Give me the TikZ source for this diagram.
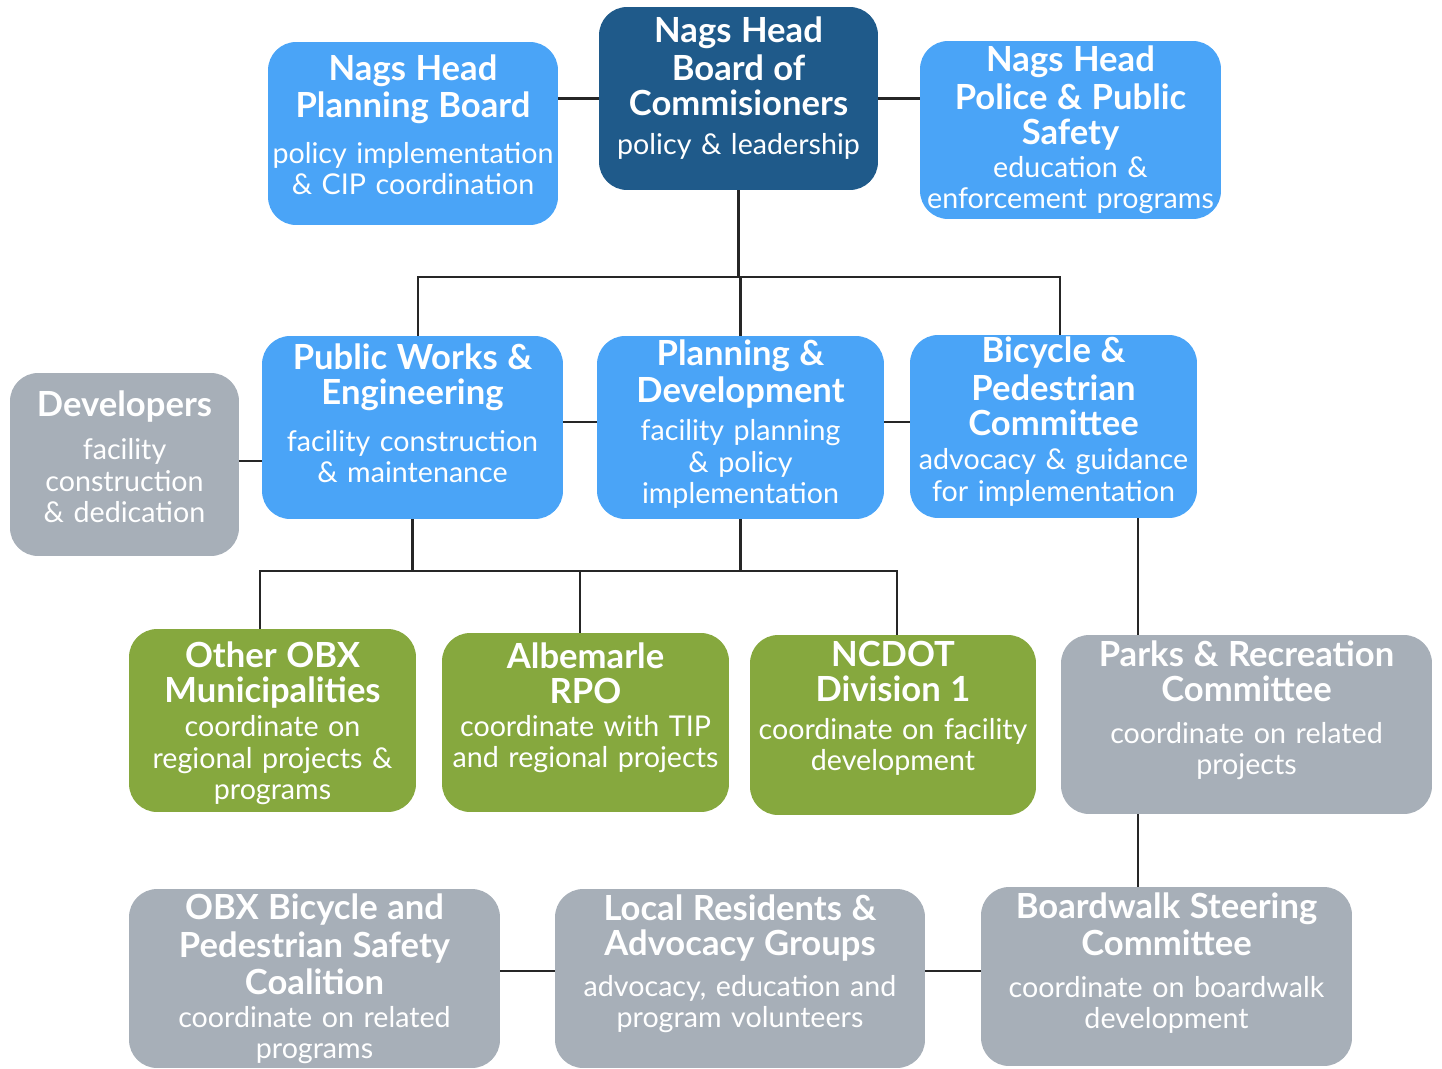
\documentclass[tikz,border=0pt]{standalone}
\usepackage{fontspec}
\setmainfont{Lato}
\usetikzlibrary{positioning}
\definecolor{boardblue}{RGB}{31,90,138}
\definecolor{townblue}{RGB}{74,164,247}
\definecolor{partnergreen}{RGB}{134,168,62}
\definecolor{othergray}{RGB}{167,175,184}
\newcommand{\hd}[1]{{\fontsize{19.7}{19.8}\selectfont\bfseries #1}}

\tikzset{
  orgbox/.style={rounded corners=16pt, inner sep=0pt, draw=none},
  boardbox/.style={orgbox, fill=boardblue},
  townbox/.style={orgbox, fill=townblue},
  partnerbox/.style={orgbox, fill=partnergreen},
  otherbox/.style={orgbox, fill=othergray},
  boxtext/.style={align=center, text width=7.6cm, text=white, inner sep=0pt,
    font=\fontsize{16.3}{17.8}\selectfont},
  link/.style={line width=1.3pt, black!85}
}

\begin{document}
\begin{tikzpicture}[x=0.02cm, y=-0.02cm]
    \useasboundingbox (0,0) rectangle (1442,1068);

    % top row
    \node[boardbox, minimum width=5.58cm, minimum height=3.66cm] (boc) at (738.5,98.5) {};
    \node[townbox, minimum width=5.8cm, minimum height=3.66cm] (pboard) at (413,133.5) {};
    \node[townbox, minimum width=6.02cm, minimum height=3.56cm] (police) at (1070.5,130) {};

    % departments
    \node[otherbox, minimum width=4.58cm, minimum height=3.66cm] (dev) at (124.5,464.5) {};
    \node[townbox, minimum width=6.02cm, minimum height=3.66cm] (pworks) at (412.5,427.5) {};
    \node[townbox, minimum width=5.74cm, minimum height=3.66cm] (pdev) at (740.5,427.5) {};
    \node[townbox, minimum width=5.74cm, minimum height=3.66cm] (bike) at (1053.5,426.5) {};

    % partners
    \node[partnerbox, minimum width=5.74cm, minimum height=3.66cm] (obx) at (272.5,720.5) {};
    \node[partnerbox, minimum width=5.74cm, minimum height=3.58cm] (rpo) at (585.5,722.5) {};
    \node[partnerbox, minimum width=5.72cm, minimum height=3.6cm] (ncdot) at (893,725) {};
    \node[otherbox, minimum width=7.42cm, minimum height=3.58cm] (parks) at (1246.5,724.5) {};

    % community
    \node[otherbox, minimum width=7.42cm, minimum height=3.58cm] (coal) at (314.5,978.5) {};
    \node[otherbox, minimum width=7.4cm, minimum height=3.58cm] (resid) at (740,978.5) {};
    \node[otherbox, minimum width=7.42cm, minimum height=3.58cm] (bwalk) at (1166.5,976.5) {};

    % texts
    \node[boxtext] (boc-t) at ([yshift=6pt]boc.center)
      {\hd{Nags Head\\[2pt]Board of\\[2pt]Commisioners}\\[4pt]policy \& leadership};
    \node[boxtext] (pboard-t) at ([yshift=5pt]pboard.center)
      {\hd{Nags Head\\[2pt]Planning Board}\\[8pt]policy implementation\\\& CIP coordination};
    \node[boxtext] (police-t) at (police.center)
      {\hd{Nags Head\\[2pt]Police \& Public\\[2pt]Safety}\\[1pt]education \&\\enforcement programs};
    \node[boxtext] (dev-t) at ([yshift=4.5pt]dev.center)
      {\hd{Developers}\\[7pt]facility\\construction\\\& dedication};
    \node[boxtext] (pworks-t) at ([yshift=8pt]pworks.center)
      {\hd{Public Works \&\\[2pt]Engineering}\\[9pt]facility construction\\\& maintenance};
    \node[boxtext] (pdev-t) at ([yshift=2pt]pdev.center)
      {\hd{Planning \&\\[2pt]Development}\\[4pt]facility planning\\\& policy\\implementation};
    \node[boxtext] (bike-t) at ([yshift=3pt]bike.center)
      {\hd{Bicycle \&\\[2pt]Pedestrian\\[2pt]Committee}\\[2pt]advocacy \& guidance\\for implementation};
    \node[boxtext] (obx-t) at ([yshift=-1.5pt]obx.center)
      {\hd{Other OBX\\[2pt]Municipalities}\\[2pt]coordinate on\\regional projects \&\\programs};
    \node[boxtext] (rpo-t) at ([yshift=8.5pt]rpo.center)
      {\hd{Albemarle\\[2pt]RPO}\\[1pt]coordinate with TIP\\and regional projects};
    \node[boxtext] (ncdot-t) at ([yshift=9.5pt]ncdot.center)
      {\hd{NCDOT\\[2pt]Division 1}\\[4pt]coordinate on facility\\development};
    \node[boxtext] (parks-t) at ([yshift=8pt]parks.center)
      {\hd{Parks \& Recreation\\[2pt]Committee}\\[6pt]coordinate on related\\projects};
    \node[boxtext] (coal-t) at (coal.center)
      {\hd{OBX Bicycle and\\[2pt]Pedestrian Safety\\[2pt]Coalition}\\[1pt]coordinate on related\\programs};
    \node[boxtext] (resid-t) at ([yshift=8.5pt]resid.center)
      {\hd{Local Residents \&\\[2pt]Advocacy Groups}\\[5.5pt]advocacy, education and\\program volunteers};
    \node[boxtext] (bwalk-t) at ([yshift=7.5pt]bwalk.center)
      {\hd{Boardwalk Steering\\[2pt]Committee}\\[6pt]coordinate on boardwalk\\development};

    % connectors
    \coordinate (upper) at (739,277);
    \coordinate (lower) at (737,571);
    \coordinate (riser) at (1138,600);

    \draw[link] (boc.west) -- (boc.west -| pboard.east);
    \draw[link] (boc.east) -- (boc.east -| police.west);
    \draw[link] (boc.south) -- (boc.south |- upper);
    \draw[link] ([xshift=3.1pt]pworks.north) |- (upper) -| ([xshift=3.7pt]bike.north);
    \draw[link] (pdev.north) -- (pdev.north |- upper);
    \draw[link] ([yshift=2pt]dev.east) -- ([yshift=2pt]dev.east -| pworks.west);
    \draw[link] ([yshift=3pt]pworks.east) -- ([yshift=3pt]pdev.west);
    \draw[link] ([yshift=3pt]pdev.east) -- ([yshift=3pt]pdev.east -| bike.west);
    \draw[link] (pworks.south) -- (pworks.south |- lower);
    \draw[link] (pdev.south) -- (pdev.south |- lower);
    \draw[link] ([xshift=-7.1pt]obx.north) |- (lower) -| ([xshift=2.3pt]ncdot.north);
    \draw[link] ([xshift=-3.1pt]rpo.north) -- ([xshift=-3.1pt]rpo.north |- lower);
    \draw[link] (bike.south -| riser) -- (parks.north -| riser);
    \draw[link] (parks.south -| riser) -- (bwalk.north -| riser);
    \draw[link] ([yshift=4.2pt]coal.east) -- ([yshift=4.2pt]resid.west);
    \draw[link] ([yshift=4.2pt]resid.east) -- ([yshift=4.2pt]resid.east -| bwalk.west);
\end{tikzpicture}
\end{document}
